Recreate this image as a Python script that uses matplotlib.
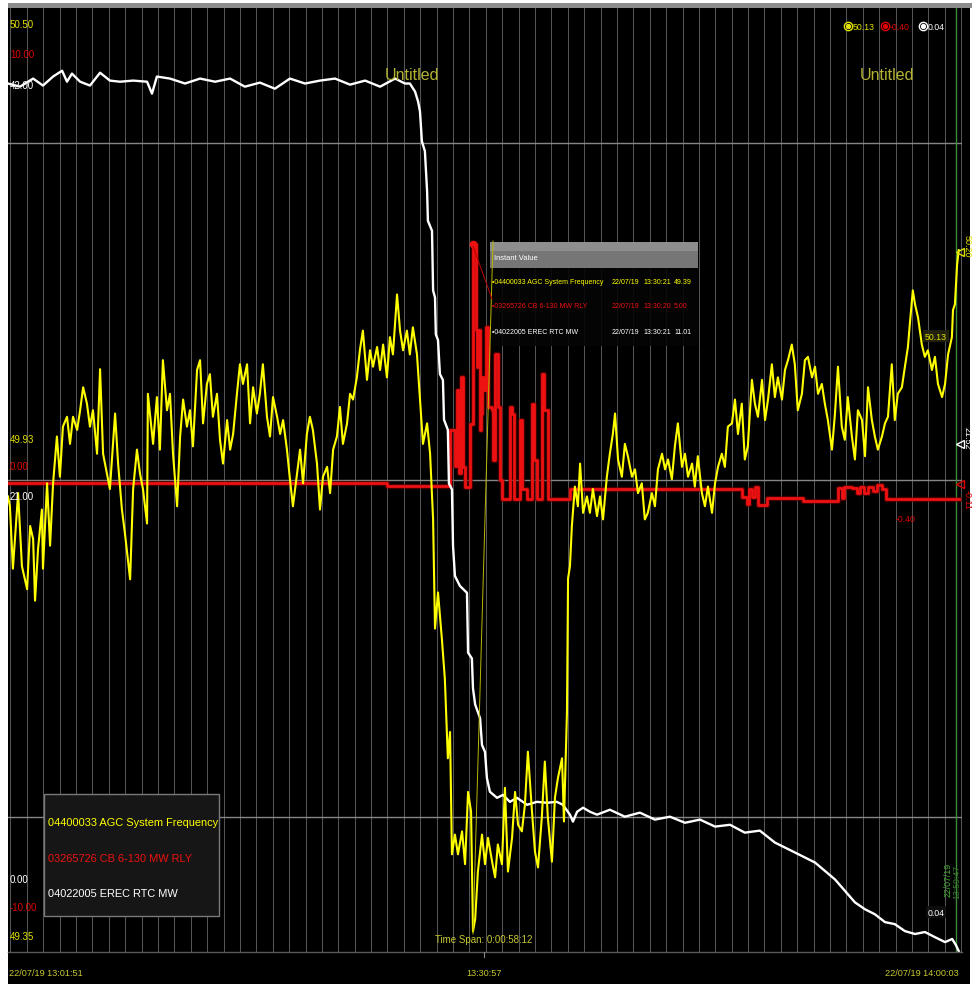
import numpy as np
import matplotlib
matplotlib.use("Agg")
import matplotlib.pyplot as plt
from matplotlib.patches import Rectangle

plt.rcParams['font.family'] = ['Liberation Sans', 'DejaVu Sans']

# ---- trend data: seconds after 22/07/19 13:01:51 ----
span_seconds = 3492

# AGC system frequency (Hz)
freq_samples = [
    (0, 49.905), (7, 49.893), (18, 49.817), (33, 49.889), (37, 49.909), (51, 49.820), (70, 49.792),
    (81, 49.869), (92, 49.853), (99, 49.778), (110, 49.841), (124, 49.889), (128, 49.817), (143, 49.921),
    (154, 49.845), (165, 49.921), (179, 49.978), (190, 49.929), (201, 49.990), (216, 50.002), (227, 49.969),
    (238, 50.002), (253, 49.986), (264, 50.010), (275, 50.038), (289, 50.018), (300, 49.990), (311, 50.010),
    (326, 49.957), (337, 50.060), (348, 49.957), (362, 49.933), (373, 49.914), (392, 50.006), (403, 49.945),
    (417, 49.889), (428, 49.860), (447, 49.804), (458, 49.914), (472, 49.962), (483, 49.933), (494, 49.914),
    (509, 49.872), (512, 50.030), (531, 49.969), (545, 50.026), (556, 49.962), (567, 50.071), (582, 50.010),
    (593, 50.030), (604, 49.957), (619, 49.893), (630, 49.978), (641, 50.023), (655, 49.990), (666, 50.010),
    (677, 49.966), (692, 50.059), (703, 50.071), (714, 49.994), (728, 50.042), (739, 50.054), (750, 50.002),
    (765, 50.030), (776, 49.974), (787, 49.945), (802, 49.998), (813, 49.962), (824, 49.981), (838, 50.030),
    (849, 50.066), (860, 50.042), (875, 50.066), (886, 49.994), (897, 50.038), (911, 50.006), (922, 50.030),
    (933, 50.066), (948, 50.002), (959, 49.978), (970, 50.026), (985, 50.002), (996, 49.981), (1007, 49.998),
    (1021, 49.962), (1032, 49.926), (1043, 49.893), (1058, 49.933), (1069, 49.962), (1080, 49.921),
    (1094, 49.981), (1105, 50.002), (1116, 49.986), (1131, 49.945), (1142, 49.889), (1153, 49.929),
    (1168, 49.941), (1179, 49.909), (1190, 49.962), (1204, 49.978), (1215, 50.014), (1226, 49.969),
    (1241, 49.994), (1252, 50.030), (1263, 50.023), (1277, 50.050), (1288, 50.083), (1299, 50.107),
    (1314, 50.047), (1325, 50.083), (1336, 50.063), (1351, 50.087), (1362, 50.059), (1373, 50.090),
    (1387, 50.050), (1398, 50.099), (1409, 50.078), (1424, 50.151), (1435, 50.107), (1446, 50.083),
    (1460, 50.107), (1471, 50.078), (1482, 50.111), (1497, 50.078), (1508, 50.023), (1519, 49.969),
    (1534, 49.994), (1545, 49.957), (1556, 49.877), (1563, 49.744), (1574, 49.788), (1588, 49.732),
    (1599, 49.683), (1610, 49.586), (1618, 49.618), (1625, 49.469), (1636, 49.493), (1647, 49.469),
    (1662, 49.497), (1673, 49.457), (1684, 49.545), (1695, 49.521), (1702, 49.375), (1710, 49.390),
    (1720, 49.448), (1735, 49.493), (1746, 49.457), (1757, 49.489), (1772, 49.460), (1783, 49.441),
    (1793, 49.481), (1808, 49.457), (1819, 49.550), (1830, 49.448), (1845, 49.489), (1856, 49.545),
    (1867, 49.505), (1881, 49.497), (1892, 49.529), (1903, 49.594), (1918, 49.521), (1929, 49.472),
    (1940, 49.453), (1954, 49.514), (1965, 49.582), (1976, 49.514), (1991, 49.460), (2002, 49.538),
    (2013, 49.562), (2028, 49.586), (2035, 49.509), (2046, 49.642), (2050, 49.805), (2057, 49.820),
    (2064, 49.869), (2075, 49.917), (2086, 49.893), (2094, 49.945), (2105, 49.885), (2119, 49.905),
    (2130, 49.885), (2141, 49.914), (2156, 49.881), (2167, 49.905), (2178, 49.877), (2192, 49.929),
    (2203, 49.957), (2214, 49.981), (2222, 50.006), (2233, 49.950), (2247, 49.929), (2258, 49.969),
    (2269, 49.954), (2284, 49.929), (2295, 49.938), (2306, 49.909), (2320, 49.921), (2331, 49.877),
    (2342, 49.885), (2357, 49.909), (2368, 49.893), (2379, 49.938), (2394, 49.957), (2405, 49.938),
    (2416, 49.950), (2430, 49.926), (2441, 49.966), (2452, 49.994), (2467, 49.941), (2478, 49.957),
    (2489, 49.929), (2504, 49.945), (2514, 49.917), (2525, 49.954), (2540, 49.909), (2551, 49.893),
    (2562, 49.917), (2577, 49.885), (2588, 49.921), (2599, 49.941), (2613, 49.957), (2624, 49.941),
    (2635, 49.990), (2650, 49.994), (2661, 50.023), (2672, 49.981), (2686, 50.018), (2697, 49.950),
    (2708, 49.966), (2723, 50.047), (2734, 50.018), (2745, 50.002), (2760, 50.047), (2771, 49.998),
    (2782, 50.023), (2796, 50.066), (2807, 50.026), (2818, 50.050), (2833, 50.023), (2844, 50.059),
    (2855, 50.071), (2869, 50.090), (2880, 50.066), (2891, 50.010), (2906, 50.030), (2917, 50.071),
    (2928, 50.075), (2943, 50.050), (2954, 50.063), (2965, 50.030), (2979, 50.042), (2990, 50.018),
    (3001, 49.998), (3016, 49.962), (3027, 50.006), (3038, 50.063), (3052, 49.990), (3063, 49.974),
    (3074, 50.026), (3089, 49.978), (3100, 49.950), (3111, 50.010), (3126, 49.998), (3137, 49.954),
    (3148, 50.038), (3162, 49.998), (3173, 49.978), (3184, 49.962), (3199, 49.978), (3210, 49.994),
    (3221, 50.002), (3235, 50.066), (3246, 49.998), (3257, 50.030), (3272, 50.038), (3283, 50.063),
    (3294, 50.087), (3301, 50.115), (3312, 50.156), (3320, 50.139), (3331, 50.123), (3345, 50.090),
    (3356, 50.075), (3367, 50.083), (3382, 50.059), (3393, 50.075), (3404, 50.042), (3419, 50.026),
    (3430, 50.042), (3441, 50.078), (3455, 50.099), (3459, 50.132), (3466, 50.139), (3474, 50.187),
    (3480, 50.205),
]

# EREC RTC MW
mw_samples = [
    (0, 38.64), (44, 38.50), (92, 38.86), (128, 38.55), (165, 38.95), (198, 39.21), (216, 38.72),
    (234, 39.08), (264, 38.72), (300, 38.55), (337, 39.12), (373, 38.77), (410, 38.72), (458, 38.77),
    (509, 38.72), (527, 38.19), (545, 38.95), (593, 38.86), (648, 38.64), (703, 38.86), (758, 38.72),
    (813, 38.86), (867, 38.50), (922, 38.68), (977, 38.41), (1032, 38.86), (1087, 38.64), (1142, 38.77),
    (1197, 38.86), (1252, 38.59), (1307, 38.77), (1362, 38.50), (1417, 38.86), (1453, 38.64),
    (1471, 38.64), (1490, 38.28), (1501, 37.84), (1508, 37.40), (1515, 36.07), (1526, 35.63),
    (1534, 33.86), (1537, 32.53), (1552, 32.09), (1556, 29.43), (1563, 29.12), (1566, 27.48),
    (1574, 27.22), (1581, 25.71), (1592, 25.45), (1596, 23.68), (1610, 23.23), (1614, 20.84),
    (1625, 20.58), (1629, 18.06), (1636, 16.73), (1654, 16.29), (1680, 15.98), (1684, 13.32),
    (1698, 13.06), (1702, 11.73), (1710, 11.01), (1728, 10.40), (1735, 9.21), (1746, 8.90),
    (1753, 7.74), (1764, 7.13), (1790, 6.86), (1812, 6.99), (1837, 6.68), (1863, 6.86), (1900, 6.55),
    (1936, 6.68), (1973, 6.64), (2009, 6.68), (2031, 6.55), (2057, 6.11), (2068, 5.80), (2083, 6.24),
    (2105, 6.42), (2130, 6.24), (2156, 6.11), (2203, 6.33), (2258, 6.02), (2313, 6.20), (2368, 5.89),
    (2423, 6.02), (2478, 5.75), (2533, 5.89), (2588, 5.58), (2643, 5.66), (2697, 5.31), (2752, 5.40),
    (2807, 4.87), (2880, 4.43), (2954, 3.98), (3027, 3.23), (3100, 2.21), (3137, 1.90), (3173, 1.68),
    (3210, 1.33), (3246, 1.24), (3283, 0.93), (3320, 0.80), (3356, 0.89), (3393, 0.66), (3430, 0.44),
    (3456, 0.58), (3470, 0.30), (3480, 0.04),
]

# CB 6-130 MW RLY (held values, change times)
rly_samples = [
    (0, -0.07), (1387, -0.12), (1618, 1.06), (1636, 0.30), (1643, 1.91), (1650, 0.14), (1658, 2.18),
    (1665, 0.28), (1672, -0.14), (1691, 1.19), (1702, 5.00), (1712, 3.17), (1716, 2.39), (1720, 3.17),
    (1727, 1.06), (1731, 1.40), (1735, 2.18), (1742, 1.91), (1749, 3.24), (1757, 1.55), (1771, 1.48),
    (1775, 0.43), (1782, 2.67), (1793, 1.55), (1801, 0.01), (1808, -0.41), (1837, 1.55), (1845, 1.40),
    (1852, -0.41), (1874, 1.28), (1881, -0.20), (1900, -0.41), (1918, 1.61), (1925, 0.43),
    (1936, -0.41), (1954, 2.24), (1961, 1.48), (1976, -0.41), (2057, -0.20), (2687, -0.35),
    (2705, -0.50), (2713, -0.20), (2723, -0.35), (2734, -0.14), (2745, -0.52), (2778, -0.39),
    (2910, -0.45), (3038, -0.18), (3052, -0.39), (3060, -0.14), (3089, -0.18), (3107, -0.28),
    (3118, -0.14), (3133, -0.28), (3148, -0.14), (3166, -0.24), (3180, -0.10), (3199, -0.20),
    (3213, -0.40), (3480, -0.40),
]

series_names = ["04400033 AGC System Frequency", "03265726 CB 6-130 MW RLY", "04022005 EREC RTC MW"]
freq_range = (49.35, 50.50)
rly_range = (-10.0, 10.0)
mw_range = (0.0, 42.0)
range_labels_top = ["50.50", "10.00", "42.00"]
range_labels_mid = ["49.93", "0.00", "21.00"]
range_labels_bottom = ["0.00", "-10.00", "49.35"]
time_labels = ["22/07/19 13:01:51", "13:30:57", "22/07/19 14:00:03"]
instant_dates = ["22/07/19", "22/07/19", "22/07/19"]
instant_times = ["13:30:21", "13:30:20", "13:30:21"]
instant_values = [49.39, 5.00, 11.01]
current_values = ["50.13", "-0.40", "0.04"]
cursor_values = ["50.20", "21.52", "-0.11"]
cursor_stamp = ["22/07/19", "13:59:47"]
time_span = "Time Span: 0:00:58:12"
panel_titles = ["Untitled", "Untitled"]

freq_t, freq_hz = zip(*freq_samples)
mw_t, mw_val = zip(*mw_samples)
rly_t, rly_val = zip(*rly_samples)

YEL, RED, WHT = '#ffff00', '#ee1111', '#ffffff'
TXT_YEL, TXT_RED = '#e2e200', '#e00000'
OLIVE = '#b4b432'
TIME_COL = '#c8c832'

# ---- figure in pixel units ----
W, H = 972, 987
fig = plt.figure(figsize=(W / 100, H / 100), dpi=100, facecolor='white')


def px_rect(left, top, width, height):
    return [left / W, 1 - (top + height) / H, width / W, height / H]


bg = fig.add_axes([0, 0, 1, 1], zorder=0)
bg.set_xlim(0, W); bg.set_ylim(H, 0); bg.axis('off')
bg.add_patch(Rectangle((8, 4), W - 10, 981, facecolor='black', edgecolor='none'))
bg.add_patch(Rectangle((8, 4), W - 8, 5, facecolor='#8c8c8c', edgecolor='none'))

PLOT = px_rect(8, 9, 954, 944)
ax_rly = fig.add_axes(PLOT, zorder=1)
ax_mw = fig.add_axes(PLOT, zorder=2, sharex=ax_rly)
ax = fig.add_axes(PLOT, zorder=3, sharex=ax_rly)
for a in (ax_rly, ax_mw, ax):
    a.set_axis_off()
ax_rly.set_xlim(0, span_seconds)
ax.set_ylim(*freq_range)
ax_rly.set_ylim(*rly_range)
ax_mw.set_ylim(*mw_range)

# minute grid, aligned to whole minutes (13:02:00 onward)
for t in np.arange(9, span_seconds, 60):
    ax_rly.axvline(t, color='#555555', lw=0.75, zorder=0)
for frac in (1 / 7, 0.5, 6 / 7):
    ax_rly.axhline(rly_range[0] + frac * (rly_range[1] - rly_range[0]), color='#858585', lw=1.0, zorder=0)
ax_rly.axvline(3470, color='#3c8c3c', lw=1.0, zorder=0)

# traces
ax_rly.plot(rly_t, rly_val, drawstyle='steps-post', color='#700000', lw=3.8, alpha=0.6, zorder=2)
ax_rly.plot(rly_t, rly_val, drawstyle='steps-post', color=RED, lw=2.0, zorder=3)
ax_mw.plot(mw_t, mw_val, color=WHT, lw=1.7, zorder=3)
ax.plot(freq_t, freq_hz, color=YEL, lw=1.5, zorder=4)
ax_rly.plot([1702], [5.00], 'o', color=RED, ms=4.5, zorder=4)

# ---- annotation layer in pixel coordinates ----
ov = fig.add_axes([0, 0, 1, 1], zorder=10)
ov.set_xlim(0, W); ov.set_ylim(H, 0); ov.axis('off')

ov.plot([8, 962], [953, 953], color='#5a5a5a', lw=1.0)
ov.plot([484, 484], [953, 958], color='#888888', lw=0.8)

# cursor connectors
ov.plot([493, 473], [242, 935], color='#b8b800', lw=0.7)
ov.plot([473, 492], [247, 300], color='#c00000', lw=0.7)

FS = 7.0
for y, txt, c in zip((25, 55, 86), range_labels_top, (TXT_YEL, TXT_RED, WHT)):
    ov.text(10, y, txt, color=c, fontsize=FS, ha='left', va='center')
for y, txt, c in zip((440, 467, 497), range_labels_mid, (TXT_YEL, TXT_RED, WHT)):
    ov.text(10, y, txt, color=c, fontsize=FS, ha='left', va='center')
for y, txt, c in zip((880, 908, 937), range_labels_bottom, (WHT, TXT_RED, TXT_YEL)):
    ov.text(10, y, txt, color=c, fontsize=FS, ha='left', va='center')

# current values, top right
for x, txt, c in zip((848, 885, 923), current_values, (TXT_YEL, TXT_RED, WHT)):
    ov.plot(x, 27, 'o', ms=6.0, mfc='none', mec=c, mew=1.0)
    ov.plot(x, 27, 'o', ms=2.8, color=c)
    ov.text(x + 5, 27, txt, color=c, fontsize=6.3, ha='left', va='center')

for x, txt in zip((412, 887), panel_titles):
    ov.text(x, 75, txt, color=OLIVE, fontsize=11.5, ha='center', va='center')

# time axis labels
ov.text(9, 973, time_labels[0], color=TIME_COL, fontsize=6.6, ha='left', va='center')
ov.text(484, 973, time_labels[1], color=TIME_COL, fontsize=6.6, ha='center', va='center')
ov.text(959, 973, time_labels[2], color=TIME_COL, fontsize=6.6, ha='right', va='center')
ov.text(484, 940, time_span, color=TIME_COL, fontsize=7.0, ha='center', va='center')

# legend panel
ov.add_patch(Rectangle((44, 795), 175, 122, facecolor='#161616', edgecolor='#7a7a7a', lw=1.0))
for y, txt, c in zip((823, 859, 894), series_names, (YEL, RED, WHT)):
    ov.text(48, y, txt, color=c, fontsize=7.9, ha='left', va='center')

# instant value tooltip
ov.add_patch(Rectangle((490, 268), 208, 79, facecolor='#050505', edgecolor='none', alpha=0.9))
ov.add_patch(Rectangle((490, 243), 208, 26, facecolor='#767676', edgecolor='none'))
ov.add_patch(Rectangle((490, 243), 208, 9, facecolor='#8e8e8e', edgecolor='none'))
ov.text(494, 258, "Instant Value", color='white', fontsize=5.4, ha='left', va='center')
for y, name, d, tm, v, c in zip((282, 306, 332), series_names, instant_dates, instant_times,
                                instant_values, (YEL, RED, WHT)):
    ov.text(492, y, "\u2022" + name, color=c, fontsize=5.0, ha='left', va='center')
    ov.text(612, y, d, color=c, fontsize=5.0, ha='left', va='center')
    ov.text(643, y, tm, color=c, fontsize=5.0, ha='left', va='center')
    ov.text(674, y, f"{v:.2f}", color=c, fontsize=5.0, ha='left', va='center')

# value tags on the traces
ov.text(936, 337, current_values[0], color=TXT_YEL, fontsize=6.3, ha='center', va='center',
        bbox=dict(boxstyle='square,pad=0.2', facecolor='#262610', edgecolor='none', alpha=0.85))
ov.text(906, 520, current_values[1], color=TXT_RED, fontsize=6.3, ha='center', va='center')
ov.text(936, 913, current_values[2], color=WHT, fontsize=6.3, ha='center', va='center',
        bbox=dict(boxstyle='square,pad=0.2', facecolor='#101010', edgecolor='none', alpha=0.85))

# right-edge cursor markers
for y, txt, c in zip((246, 438, 500), cursor_values, (TXT_YEL, WHT, TXT_RED)):
    ov.text(967, y, txt, color=c, fontsize=6.5, ha='center', va='center', rotation=270)
for y, c in zip((253, 445, 485), (TXT_YEL, WHT, TXT_RED)):
    ov.plot(960, y, marker='<', ms=5.5, mfc='none', mec=c, mew=1.0)

ov.text(948, 880, cursor_stamp[0], color='#4caf3a', fontsize=6.3, ha='center', va='center', rotation=90)
ov.text(957, 882, cursor_stamp[1], color='#3c7a30', fontsize=6.3, ha='center', va='center', rotation=90)

fig.savefig('out.png', dpi=100, facecolor='white')
